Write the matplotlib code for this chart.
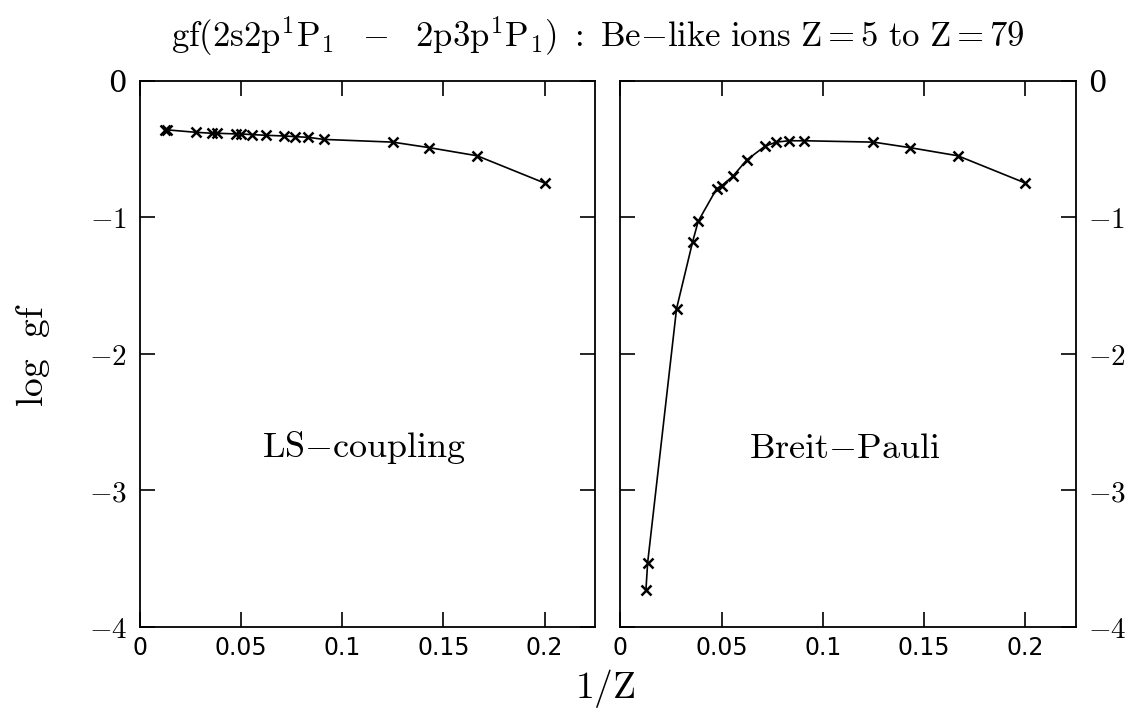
import matplotlib
matplotlib.use("Agg")
import matplotlib.pyplot as plt
import numpy as np

plt.rcParams['mathtext.fontset'] = 'cm'
plt.rcParams['font.family'] = 'serif'
plt.rcParams['font.serif'] = ['DejaVu Serif']

# nuclear charges Z
Z = np.array([79, 74, 36, 28, 26, 21, 20, 18, 16, 14, 13, 12, 11, 8, 7, 6, 5])
inv_Z = 1.0 / Z

# log gf, LS-coupling
log_gf_ls = [-0.36, -0.36, -0.378, -0.385, -0.385, -0.39, -0.39, -0.395, -0.40,
             -0.405, -0.41, -0.415, -0.43, -0.45, -0.49, -0.55, -0.75]
# log gf, Breit-Pauli
log_gf_bp = [-3.73, -3.53, -1.67, -1.18, -1.03, -0.79, -0.77, -0.70, -0.58,
             -0.48, -0.45, -0.44, -0.44, -0.45, -0.49, -0.55, -0.75]

panel_labels = [r'$\mathrm{LS{-}coupling}$', r'$\mathrm{Breit{-}Pauli}$']
xticks = [0, 0.05, 0.1, 0.15, 0.2]
xticklabels = ['0', '0.05', '0.1', '0.15', '0.2']
yticks = [0, -1, -2, -3, -4]
yticklabels = ['0', '$-1$', '$-2$', '$-3$', '$-4$']

W, H = 1133, 725
fig = plt.figure(figsize=(W / 100, H / 100), dpi=100)

def rect(x0, x1, y0, y1):
    return [x0 / W, 1 - y1 / H, (x1 - x0) / W, (y1 - y0) / H]

ax1 = fig.add_axes(rect(139.5, 595.3, 80.7, 626.7))
ax2 = fig.add_axes(rect(620.3, 1076, 80.7, 626.7))

for ax, data, lab in [(ax1, log_gf_ls, panel_labels[0]), (ax2, log_gf_bp, panel_labels[1])]:
    ax.plot(inv_Z, data, color='black', lw=1.2, marker='x', ms=7, mew=1.8)
    ax.set_xlim(0, 0.225)
    ax.set_ylim(-4, 0)
    ax.set_xticks(xticks)
    ax.set_xticklabels(xticklabels, fontfamily='DejaVu Sans', fontsize=17)
    ax.set_yticks(yticks)
    ax.set_yticklabels(yticklabels, fontsize=21)
    ax.tick_params(direction='in', length=11, width=1.2, top=True, right=True)
    ax.tick_params(axis='x', pad=7)
    ax.tick_params(axis='y', pad=9)
    for s in ax.spines.values():
        s.set_linewidth(1.3)
    ax.text(0.111, -2.69, lab, fontsize=26, ha='center', va='center')

ax2.tick_params(labelleft=False, labelright=True)

fig.text(598 / W, 1 - 36 / H,
         r'$\mathrm{gf(2s2p^1P_1\ \ -\ \ 2p3p^1P_1)\ :\ Be{-}like\ ions\ Z{=}5\ to\ Z{=}79}$',
         fontsize=25, ha='center', va='center')
fig.text(605 / W, 1 - 688 / H, r'$1/\mathrm{Z}$', fontsize=27, ha='center', va='center')
fig.text(33 / W, 1 - 355 / H, r'$\mathrm{log\ \ gf}$', fontsize=27, ha='center',
         va='center', rotation=90)

fig.savefig('out.png', dpi=100)
